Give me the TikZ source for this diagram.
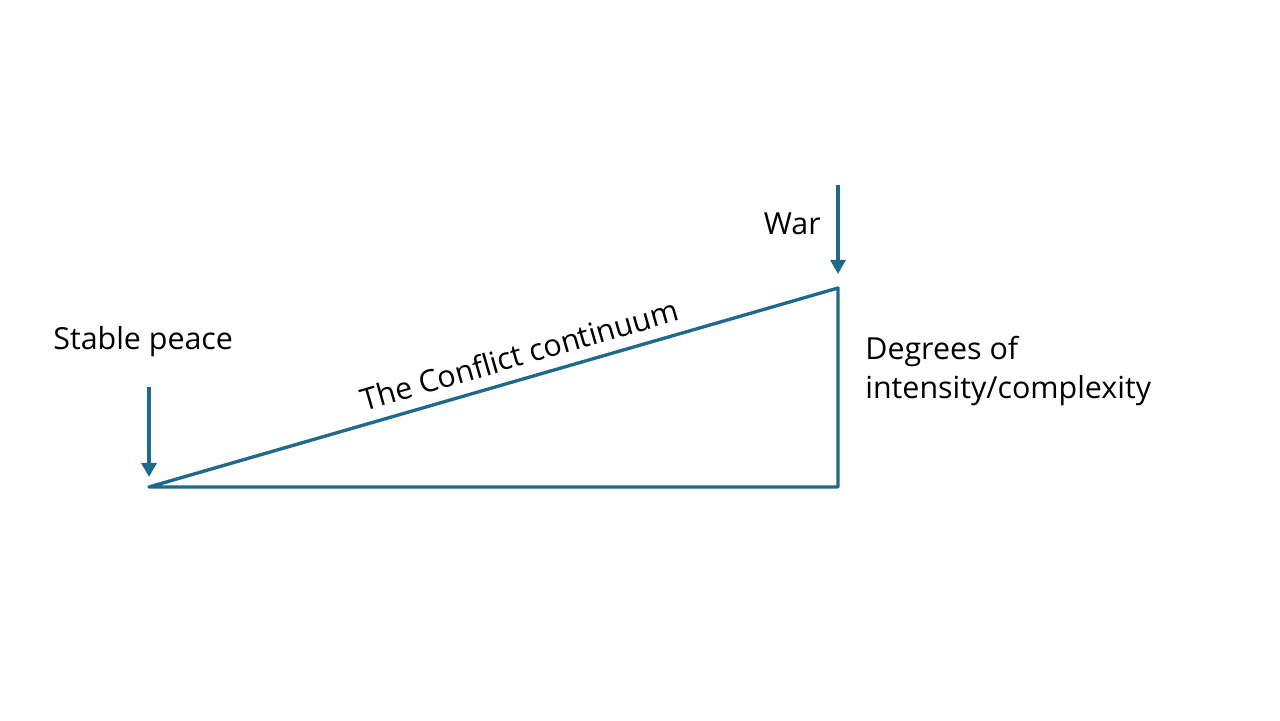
\documentclass[tikz,border=0pt]{standalone}
\usepackage{fontspec}
\setmainfont{Open Sans}
\usetikzlibrary{positioning,calc,arrows.meta}
\definecolor{ctblue}{HTML}{1F6A8C}

\begin{document}
\begin{tikzpicture}[
  x=0.02cm, y=-0.02cm,
  side/.style={draw=ctblue, line width=1.9pt, line cap=round, line join=round},
  pointer/.style={draw=ctblue, line width=1.9pt, -{Triangle[length=8pt, width=8.5pt]}},
  lbl/.style={font=\fontsize{17.3}{22.1}\selectfont, text=black, inner sep=0pt, align=left},
]
\useasboundingbox (0,0) rectangle (1280,720);

% Triangle corners
\coordinate (peace) at (149, 487);
\coordinate (base) at (838, 487);
\coordinate (war) at (838, 288);

% Arrow tails
\coordinate (wartop) at (838, 185);
\coordinate (peacetop) at (149, 387);

% Triangle
\draw[side] (peace) -- (base) -- (war) -- cycle;
\path (peace) -- node[lbl, sloped, above=7pt, pos=0.547] (cont) {The Conflict continuum} (war);

% Labels
\node[lbl, anchor=west] (stable) at (53, 342) {Stable peace};
\node[lbl, anchor=east] (warlbl) at (821, 224) {War};
\node[lbl, anchor=north west] (degrees) at (865, 336)
  {Degrees of\\intensity/complexity};

% Pointers
\draw[pointer] (wartop) -- ($(war)+(0,-14)$);
\draw[pointer] (peacetop) -- ($(peace)+(0,-10)$);

\end{tikzpicture}
\end{document}
